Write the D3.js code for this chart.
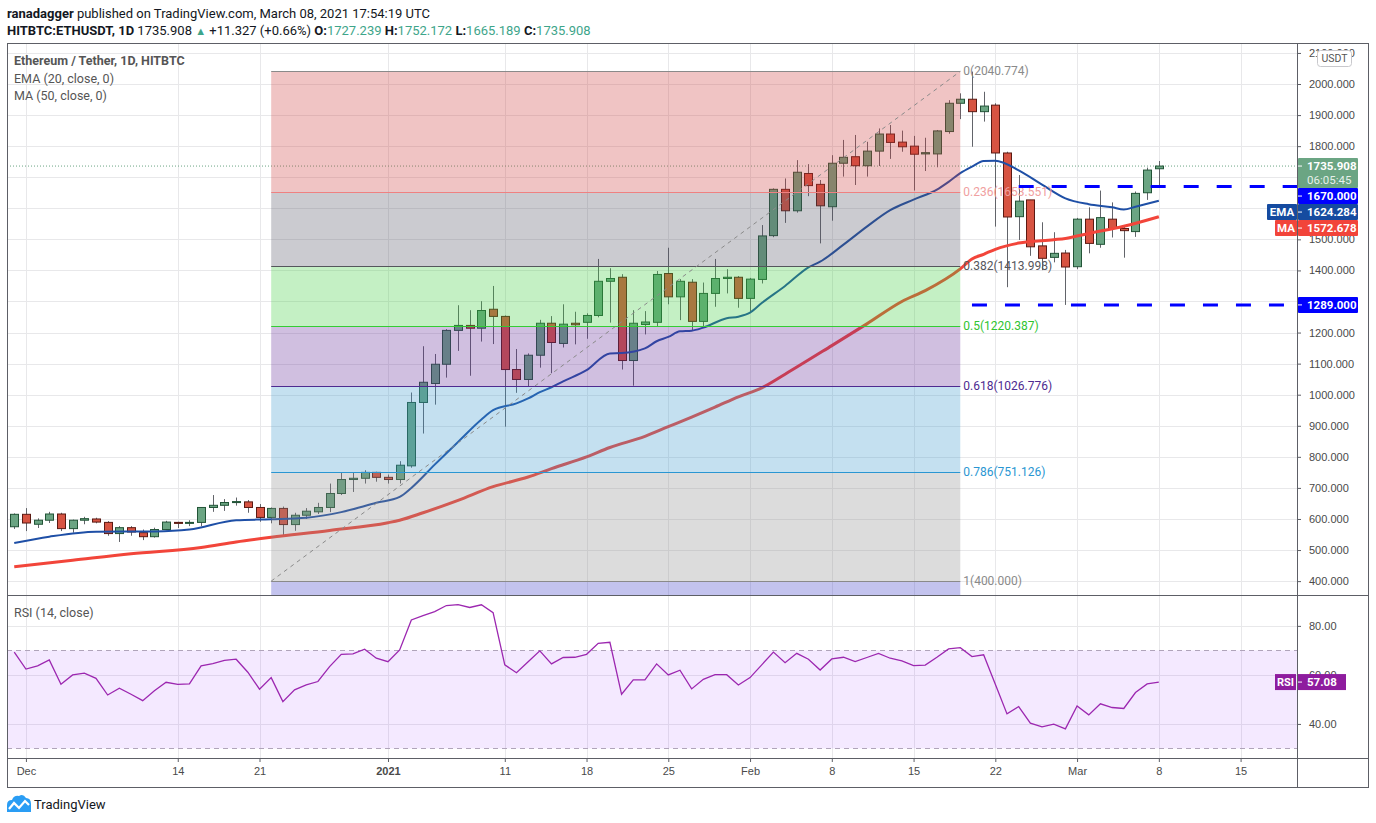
<!DOCTYPE html>
<html>
<head>
  <title>Ethereum / Tether, 1D</title>
  <meta charset="utf-8">
  <style>
  body { margin: 0; background: #fff; }
  svg { display: block; font-family: Roboto, "Liberation Sans", sans-serif; }
  .axis path { display: none; }
  .axis line { stroke: #5d5f66; }
  .axis text { fill: #4a4a4a; font-size: 11px; }
  .grid line { stroke: #e8e8ea; stroke-width: 1; }
  </style>
</head>
<body>
<script src="https://d3js.org/d3.v7.min.js"></script>
<script type="text/javascript">
// daily candles, Nov 30 2020 .. Mar 8 2021
var opens  = [575,615,583,596,616,569,596,600,589,553,572,556,543,566,589,586,589,637,644,653,655,637,605,634,582,612,623,637,682,727,
              731,750,734,727,771,975,1036,1098,1207,1223,1214,1275,1252,1081,1049,1127,1230,1165,1230,1233,1255,1365,1378,1110,1226,1233,1390,1315,1362,1236,
              1326,1374,1378,1310,1371,1512,1661,1592,1712,1677,1605,1745,1766,1737,1784,1839,1813,1800,1775,1775,1847,1938,1951,1911,1932,1778,1573,1627,1479,1442,
              1456,1412,1565,1484,1565,1535,1525,1650,1727.239];
var highs  = [618,635,602,623,620,598,607,604,593,577,577,566,572,594,591,596,637,677,664,669,661,648,637,640,620,635,652,714,749,749,
              757,752,743,786,1007,1156,1131,1211,1288,1272,1301,1350,1255,1147,1133,1241,1253,1291,1267,1262,1437,1407,1388,1272,1269,1398,1473,1372,1372,1361,
              1437,1404,1382,1376,1546,1664,1696,1755,1742,1691,1771,1820,1836,1814,1857,1868,1850,1833,1827,1852,1948,1970,2040,1975,1938,1782,1707,1627,1555,1523,
              1466,1569,1603,1657,1619,1545,1654,1731,1752.172];
var lows   = [568,561,571,587,561,556,583,586,546,526,546,532,540,564,571,577,577,623,626,643,620,591,586,548,562,600,616,622,677,687,
              714,720,714,714,765,875,968,1055,1141,1061,1171,1163,897,1006,1026,1087,1069,1152,1162,1180,1249,1232,1081,1029,1194,1221,1291,1240,1208,1216,
              1283,1326,1280,1267,1358,1507,1553,1586,1639,1487,1560,1702,1675,1702,1736,1759,1782,1657,1720,1732,1840,1887,1798,1879,1541,1346,1498,1447,1401,1426,
              1289,1404,1455,1473,1506,1441,1508,1627,1665.189];
var closes = [615,587,596,616,569,596,601,590,553,572,558,543,566,590,586,589,637,644,653,656,637,605,634,582,612,625,637,682,727,731,
              750,734,727,773,975,1040,1098,1207,1223,1214,1271,1252,1081,1049,1127,1230,1168,1227,1225,1255,1365,1374,1110,1230,1234,1387,1315,1365,1236,1326,
              1374,1378,1310,1372,1511,1661,1592,1716,1673,1608,1745,1764,1737,1784,1839,1812,1798,1774,1779,1849,1938,1951,1911,1929,1778,1572,1623,1476,1439,1455,
              1411,1565,1487,1570,1535,1528,1648,1723,1735.908];

// EMA(20) and MA(50): [day index, value]
var emaPts = [[0,523],[3,543],[7,559],[12,560],[15,566],[19,596],[22,599],[25,604],[28,622],[31,652],[33,671],[34,700],[36,775],[38,848],
              [40,920],[41,950],[43,972],[44,988],[45,1008],[46,1024],[47,1043],[49,1079],[51,1133],[52,1134],[54,1149],[55,1172],[56,1186],
              [57,1204],[58,1206],[59,1216],[61,1246],[62,1251],[63,1264],[64,1295],[66,1350],[68,1410],[69,1428],[71,1483],[73,1541],[75,1594],
              [77,1628],[79,1660],[80,1685],[81,1713],[82,1734],[83,1752],[84,1753],[86,1722],[88,1676],[90,1632],[92,1613],[94,1603],[95,1596],
              [96,1605],[98,1624]];
var maPts  = [[0,446],[5,467],[10,488],[16,508],[19,526],[22,541],[27,563],[32,588],[33,596],[35,620],[38,660],[41,704],[44,735],[46,762],
              [49,800],[51,830],[54,866],[56,897],[58,928],[60,960],[62,993],[64,1022],[66,1066],[70,1158],[73,1228],[76,1300],[78,1335],
              [81,1405],[82,1437],[83,1452],[84,1468],[86,1488],[89,1499],[90,1503],[92,1519],[95,1542],[98,1573]];

// RSI(14) per day
var rsi = [69.3,62.4,63.7,66.1,56.2,60.0,60.7,58.6,51.8,54.6,52.1,49.5,53.5,57.0,56.1,56.3,63.7,64.6,65.9,66.4,61.1,54.2,58.9,49.1,53.9,55.9,57.3,63.4,68.4,68.6,
           70.5,66.8,65.4,70.2,82.4,84.2,85.8,88.3,88.7,87.5,88.6,85.4,64.1,60.9,65.4,69.8,64.5,67.1,67.2,68.4,72.9,73.3,52.1,58.0,58.0,64.5,60.0,61.9,54.3,58.2,
           60.1,60.1,55.9,58.9,64.1,69.3,65.0,68.8,66.4,62.0,66.5,67.2,65.4,67.1,68.8,66.8,65.7,63.8,64.0,67.2,70.6,71.1,67.5,68.2,56.2,44.1,47.1,40.3,38.8,39.9,
           38.0,47.3,43.7,48.2,46.7,46.3,52.8,56.3,57.08];

// fibonacci retracement drawn from Dec 22 to Feb 19
var fibLevels = [0, 0.236, 0.382, 0.5, 0.618, 0.786, 1];
var fibPrices = [2040.774, 1653.551, 1413.998, 1220.387, 1026.776, 751.126, 400.000];

// horizontal support / resistance lines
var levelPrices = [1670, 1289];
var levelStarts = ["2021-02-24", "2021-02-20"];

var priceTicks = d3.range(400, 2101, 100);
var rsiTicks = [40, 60, 80];
var timeTicks = ["2020-12-01","2020-12-14","2020-12-21","2021-01-01","2021-01-11","2021-01-18","2021-01-25",
                 "2021-02-01","2021-02-08","2021-02-15","2021-02-22","2021-03-01","2021-03-08","2021-03-15"];
var timeLabels = ["Dec","14","21","2021","11","18","25","Feb","8","15","22","Mar","8","15"];

// ---------------------------------------------------------------
var width = 1376, height = 823;
var L = 7, R = 1297, RE = 1368, T = 43, P1 = 595, P2 = 758, B = 787;
var upCol = "#6ba583", dnCol = "#d75442", upBorder = "#225437", dnBorder = "#5b1a13";
var green = "#3ea58a";
var parse = d3.utcParse("%Y-%m-%d");

var days = d3.utcDay.range(new Date(Date.UTC(2020, 10, 30)), new Date(Date.UTC(2021, 2, 9)));

var x = d3.scaleUtc()
    .domain([new Date(Date.UTC(2020, 10, 29, 9, 7)), new Date(Date.UTC(2021, 2, 19, 19, 55))])
    .range([L, R]);
var y = d3.scaleLinear().domain([355.3, 2132]).range([P1, T]);
var yr = d3.scaleLinear().domain([26.1, 92.6]).range([P2, P1]);

var svg = d3.select("body").append("svg")
    .attr("width", width)
    .attr("height", height);

var defs = svg.append("defs");
defs.append("clipPath").attr("id", "clipMain")
  .append("rect").attr("x", L).attr("y", T).attr("width", R - L).attr("height", P1 - T);
defs.append("clipPath").attr("id", "clipRsi")
  .append("rect").attr("x", L).attr("y", P1).attr("width", R - L).attr("height", P2 - P1);

// grid
var grid = svg.append("g").attr("class", "grid");
grid.selectAll(".vg").data(timeTicks).enter().append("line")
    .attr("x1", function(d) { return Math.round(x(parse(d))) + 0.5; })
    .attr("x2", function(d) { return Math.round(x(parse(d))) + 0.5; })
    .attr("y1", T).attr("y2", P2);
grid.selectAll(".hg").data(priceTicks).enter().append("line")
    .attr("x1", L).attr("x2", R)
    .attr("y1", function(d) { return Math.round(y(d)) + 0.5; })
    .attr("y2", function(d) { return Math.round(y(d)) + 0.5; });
grid.selectAll(".rg").data(rsiTicks).enter().append("line")
    .attr("x1", L).attr("x2", R)
    .attr("y1", function(d) { return Math.round(yr(d)) + 0.5; })
    .attr("y2", function(d) { return Math.round(yr(d)) + 0.5; });

// main pane
var main = svg.append("g").attr("clip-path", "url(#clipMain)");

// last price dotted line
main.append("line")
    .attr("x1", L).attr("x2", R)
    .attr("y1", y(closes[closes.length - 1])).attr("y2", y(closes[closes.length - 1]))
    .attr("stroke", upCol).attr("stroke-dasharray", "1,2");

var candles = days.map(function(d, i) {
  return { date: d, o: opens[i], h: highs[i], l: lows[i], c: closes[i] };
});

var cg = main.append("g");
cg.selectAll(".wick").data(candles).enter().append("line")
    .attr("x1", function(d) { return Math.round(x(d.date)) + 0.5; })
    .attr("x2", function(d) { return Math.round(x(d.date)) + 0.5; })
    .attr("y1", function(d) { return y(d.h); })
    .attr("y2", function(d) { return y(d.l); })
    .attr("stroke", "#62646a");
cg.selectAll(".body").data(candles).enter().append("rect")
    .attr("x", function(d) { return Math.round(x(d.date)) - 3.5; })
    .attr("width", 8)
    .attr("y", function(d) { return y(Math.max(d.o, d.c)); })
    .attr("height", function(d) { return Math.max(1, Math.abs(y(d.o) - y(d.c))); })
    .attr("fill", function(d) { return d.c >= d.o ? upCol : dnCol; })
    .attr("stroke", function(d) { return d.c >= d.o ? upBorder : dnBorder; })
    .attr("stroke-width", 1);

var line = d3.line()
    .x(function(d) { return x(days[d[0]]); })
    .y(function(d) { return y(d[1]); })
    .curve(d3.curveMonotoneX);

main.append("path").datum(maPts)
    .attr("d", line).attr("fill", "none")
    .attr("stroke", "#f2453a").attr("stroke-width", 3).attr("stroke-linejoin", "round");
main.append("path").datum(emaPts)
    .attr("d", line).attr("fill", "none")
    .attr("stroke", "#1e4fa6").attr("stroke-width", 2).attr("stroke-linejoin", "round");

// fibonacci retracement (drawn over the series, semi transparent)
var fx0 = x(days[22]), fx1 = x(days[81]);
var zoneFill = ["rgba(205,58,58,0.3)", "rgba(82,82,100,0.3)", "rgba(58,205,58,0.3)", "rgba(98,42,152,0.3)",
                "rgba(58,152,205,0.3)", "rgba(138,138,138,0.3)", "rgba(55,55,200,0.3)"];
var fibLine = ["#8a8a8a", "#f08080", "#55565c", "#33cc33", "#4e2a90", "#2a96d2", "#8a8a8a"];
var fibText = ["#8a8a8a", "#f0a0a0", "#55565c", "#2fc42f", "#4e2a90", "#2a96d2", "#8a8a8a"];

var zones = fibPrices.map(function(p, i) {
  return { top: p, bottom: i < fibPrices.length - 1 ? fibPrices[i + 1] : y.domain()[0] };
});
var fib = main.append("g");
fib.selectAll(".zone").data(zones).enter().append("rect")
    .attr("x", fx0).attr("width", fx1 - fx0)
    .attr("y", function(d) { return y(d.top); })
    .attr("height", function(d) { return y(d.bottom) - y(d.top); })
    .attr("fill", function(d, i) { return zoneFill[i]; });
fib.selectAll(".lvl").data(fibPrices).enter().append("line")
    .attr("x1", fx0).attr("x2", fx1)
    .attr("y1", function(d) { return Math.round(y(d)) + 0.5; })
    .attr("y2", function(d) { return Math.round(y(d)) + 0.5; })
    .attr("stroke", function(d, i) { return fibLine[i]; });
fib.append("line")
    .attr("x1", fx0).attr("y1", y(fibPrices[6]))
    .attr("x2", fx1).attr("y2", y(fibPrices[0]))
    .attr("stroke", "#8a8a8a").attr("stroke-dasharray", "4,4");
fib.selectAll(".flab").data(fibPrices).enter().append("text")
    .attr("x", fx1 + 3)
    .attr("y", function(d) { return y(d); })
    .attr("dominant-baseline", "central")
    .attr("font-size", 12)
    .attr("fill", function(d, i) { return fibText[i]; })
    .text(function(d, i) { return fibLevels[i] + "(" + d.toFixed(3) + ")"; });

// dashed horizontal levels
main.selectAll(".level").data(levelPrices).enter().append("line")
    .attr("x1", function(d, i) { return x(parse(levelStarts[i])); })
    .attr("x2", R)
    .attr("y1", function(d) { return y(d); })
    .attr("y2", function(d) { return y(d); })
    .attr("stroke", "#0000ff").attr("stroke-width", 3).attr("stroke-dasharray", "15,18");

// RSI pane
var rp = svg.append("g").attr("clip-path", "url(#clipRsi)");
rp.append("rect")
    .attr("x", L).attr("width", R - L)
    .attr("y", yr(70)).attr("height", yr(30) - yr(70))
    .attr("fill", "rgba(153,51,255,0.11)");
rp.selectAll(".band").data([70, 30]).enter().append("line")
    .attr("x1", L).attr("x2", R)
    .attr("y1", function(d) { return Math.round(yr(d)) + 0.5; })
    .attr("y2", function(d) { return Math.round(yr(d)) + 0.5; })
    .attr("stroke", "#b0a4ba").attr("stroke-dasharray", "5,4");
rp.append("path").datum(rsi)
    .attr("d", d3.line().x(function(d, i) { return x(days[i]); }).y(function(d) { return yr(d); }))
    .attr("fill", "none").attr("stroke", "#9c27b0").attr("stroke-width", 1.3);

// price axis badges: stacked so they never overlap
var badges = [
  { v: closes[closes.length - 1], bg: upCol, lines: ["1735.908", "06:05:45"], h: 30 },
  { v: levelPrices[0], bg: "#0000ff", lines: ["1670.000"], h: 16 },
  { v: emaPts[emaPts.length - 1][1] + 0.284, bg: "#154ba0", lines: ["1624.284"], h: 16, tag: "EMA" },
  { v: maPts[maPts.length - 1][1] - 0.322, bg: "#f2443a", lines: ["1572.678"], h: 16, tag: "MA" },
  { v: levelPrices[1], bg: "#0000ff", lines: ["1289.000"], h: 16 }
];
var prevBottom = -Infinity;
badges.forEach(function(b) {
  b.top = Math.max(y(b.v) - 8, prevBottom);
  prevBottom = b.top + b.h;
});
function underBadge(py) {
  return badges.some(function(b) { return py > b.top + 1 && py < b.top + b.h - 1; });
}

// axes (labels fully covered by a badge are left out)
svg.append("g").attr("class", "axis")
    .attr("transform", "translate(" + R + ",0)")
    .call(d3.axisRight(y).tickValues(priceTicks.filter(function(v) { return !underBadge(y(v)); }))
      .tickSize(4).tickPadding(8).tickFormat(d3.format(".3f")));
svg.append("g").attr("class", "axis")
    .attr("transform", "translate(" + R + ",0)")
    .call(d3.axisRight(yr).tickValues(rsiTicks).tickSize(4).tickPadding(8).tickFormat(d3.format(".2f")));
var xa = svg.append("g").attr("class", "axis")
    .attr("transform", "translate(0," + P2 + ")")
    .call(d3.axisBottom(x).tickValues(timeTicks.map(parse)).tickSize(4).tickPadding(5)
      .tickFormat(function(d, i) { return timeLabels[i]; }));
xa.selectAll("text").attr("font-weight", function(d, i) { return timeLabels[i] === "2021" ? "bold" : null; });

// USDT box
svg.append("rect").attr("x", 1317.5).attr("y", 50.5).attr("width", 34).attr("height", 16).attr("rx", 3)
    .attr("fill", "#fff").attr("stroke", "#c8c8cc");
svg.append("text").attr("x", 1334.5).attr("y", 58.5).attr("text-anchor", "middle").attr("dominant-baseline", "central")
    .attr("font-size", 10.5).attr("fill", "#555").text("USDT");

// frame
var frame = svg.append("g").attr("stroke", "#5d5f66").attr("fill", "none");
frame.append("rect").attr("x", L + 0.5).attr("y", T + 0.5).attr("width", RE - L).attr("height", B - T);
frame.append("line").attr("x1", R + 0.5).attr("x2", R + 0.5).attr("y1", T).attr("y2", B);
frame.append("line").attr("x1", L).attr("x2", RE).attr("y1", P1 + 0.5).attr("y2", P1 + 0.5);
frame.append("line").attr("x1", L).attr("x2", RE).attr("y1", P2 + 0.5).attr("y2", P2 + 0.5);

badges.forEach(function(b) {
  var g = svg.append("g");
  g.append("rect").attr("x", R + 1).attr("y", b.top).attr("width", 60).attr("height", b.h).attr("rx", 1).attr("fill", b.bg);
  g.append("line").attr("x1", R + 1).attr("x2", R + 5).attr("y1", b.top + 8).attr("y2", b.top + 8).attr("stroke", "#fff");
  b.lines.forEach(function(t, k) {
    g.append("text").attr("x", R + 10).attr("y", b.top + 8 + k * 14)
      .attr("dominant-baseline", "central").attr("font-size", 11.5)
      .attr("font-weight", k === 0 ? "bold" : null)
      .attr("fill", k === 0 ? "#fff" : "rgba(255,255,255,0.85)").text(t);
  });
  if (b.tag) {
    var tw = b.tag.length * 8 + 6;
    g.append("rect").attr("x", R - tw).attr("y", b.top).attr("width", tw).attr("height", b.h).attr("rx", 1).attr("fill", b.bg);
    g.append("text").attr("x", R - tw / 2).attr("y", b.top + 8).attr("text-anchor", "middle")
      .attr("dominant-baseline", "central").attr("font-size", 11.5).attr("font-weight", "bold")
      .attr("fill", "#fff").text(b.tag);
  }
});

// RSI badge
var rv = rsi[rsi.length - 1], rTop = yr(rv) - 8;
svg.append("rect").attr("x", R + 1).attr("y", rTop).attr("width", 48).attr("height", 16).attr("fill", "#8e1c9e");
svg.append("rect").attr("x", R - 22).attr("y", rTop).attr("width", 21).attr("height", 16).attr("fill", "#8e1c9e");
svg.append("line").attr("x1", R + 1).attr("x2", R + 5).attr("y1", rTop + 8).attr("y2", rTop + 8).attr("stroke", "#fff");
svg.append("text").attr("x", R + 10).attr("y", rTop + 8).attr("dominant-baseline", "central")
    .attr("font-size", 11.5).attr("font-weight", "bold").attr("fill", "#fff").text(rv.toFixed(2));
svg.append("text").attr("x", R - 11.5).attr("y", rTop + 8).attr("text-anchor", "middle").attr("dominant-baseline", "central")
    .attr("font-size", 11).attr("font-weight", "bold").attr("fill", "#fff").text("RSI");

// pane legends
var leg = svg.append("g").attr("font-size", 12.5).attr("fill", "#555");
leg.append("text").attr("x", 14).attr("y", 64.5).attr("font-weight", "bold").text("Ethereum / Tether, 1D, HITBTC");
leg.append("text").attr("x", 14).attr("y", 82.5).text("EMA (20, close, 0)");
leg.append("text").attr("x", 14).attr("y", 99.5).text("MA (50, close, 0)");
leg.append("text").attr("x", 14).attr("y", 617).text("RSI (14, close)");

// header
var h1 = svg.append("text").attr("x", 7).attr("y", 18).attr("font-size", 13).attr("fill", "#131722");
h1.append("tspan").attr("font-weight", "bold").text("ranadagger");
h1.append("tspan").text(" published on TradingView.com, March 08, 2021 17:54:19 UTC");

var h2 = svg.append("text").attr("x", 7).attr("y", 35).attr("font-size", 13).attr("fill", "#131722");
h2.append("tspan").attr("font-weight", "bold").text("HITBTC:ETHUSDT, 1D");
h2.append("tspan").text(" " + closes[closes.length - 1].toFixed(3) + " ");
h2.append("tspan").attr("fill", green).attr("font-size", 11).text("\u25B2");
h2.append("tspan").text(" +11.327 (+0.66%) ");
[["O:", opens], ["H:", highs], ["L:", lows], ["C:", closes]].forEach(function(p, k) {
  h2.append("tspan").attr("font-weight", "bold").text((k ? " " : "") + p[0]);
  h2.append("tspan").attr("fill", green).text(p[1][p[1].length - 1].toFixed(3));
});

// logo
var logo = svg.append("g").attr("transform", "translate(7,794)");
logo.append("path")
    .attr("d", "M0,18 L0,11 Q0,6 5,6 Q7,1 12,2 Q16,-1 19,4 Q24,4 24,10 L24,18 Z")
    .attr("fill", "#2a9df4");
logo.append("polyline")
    .attr("points", "2,15 7,9 12,14 18,7 22,11")
    .attr("fill", "none").attr("stroke", "#fff").attr("stroke-width", 2.2);
svg.append("text").attr("x", 34).attr("y", 809).attr("font-size", 13).attr("fill", "#131722").text("TradingView");
</script>
</body>
</html>
